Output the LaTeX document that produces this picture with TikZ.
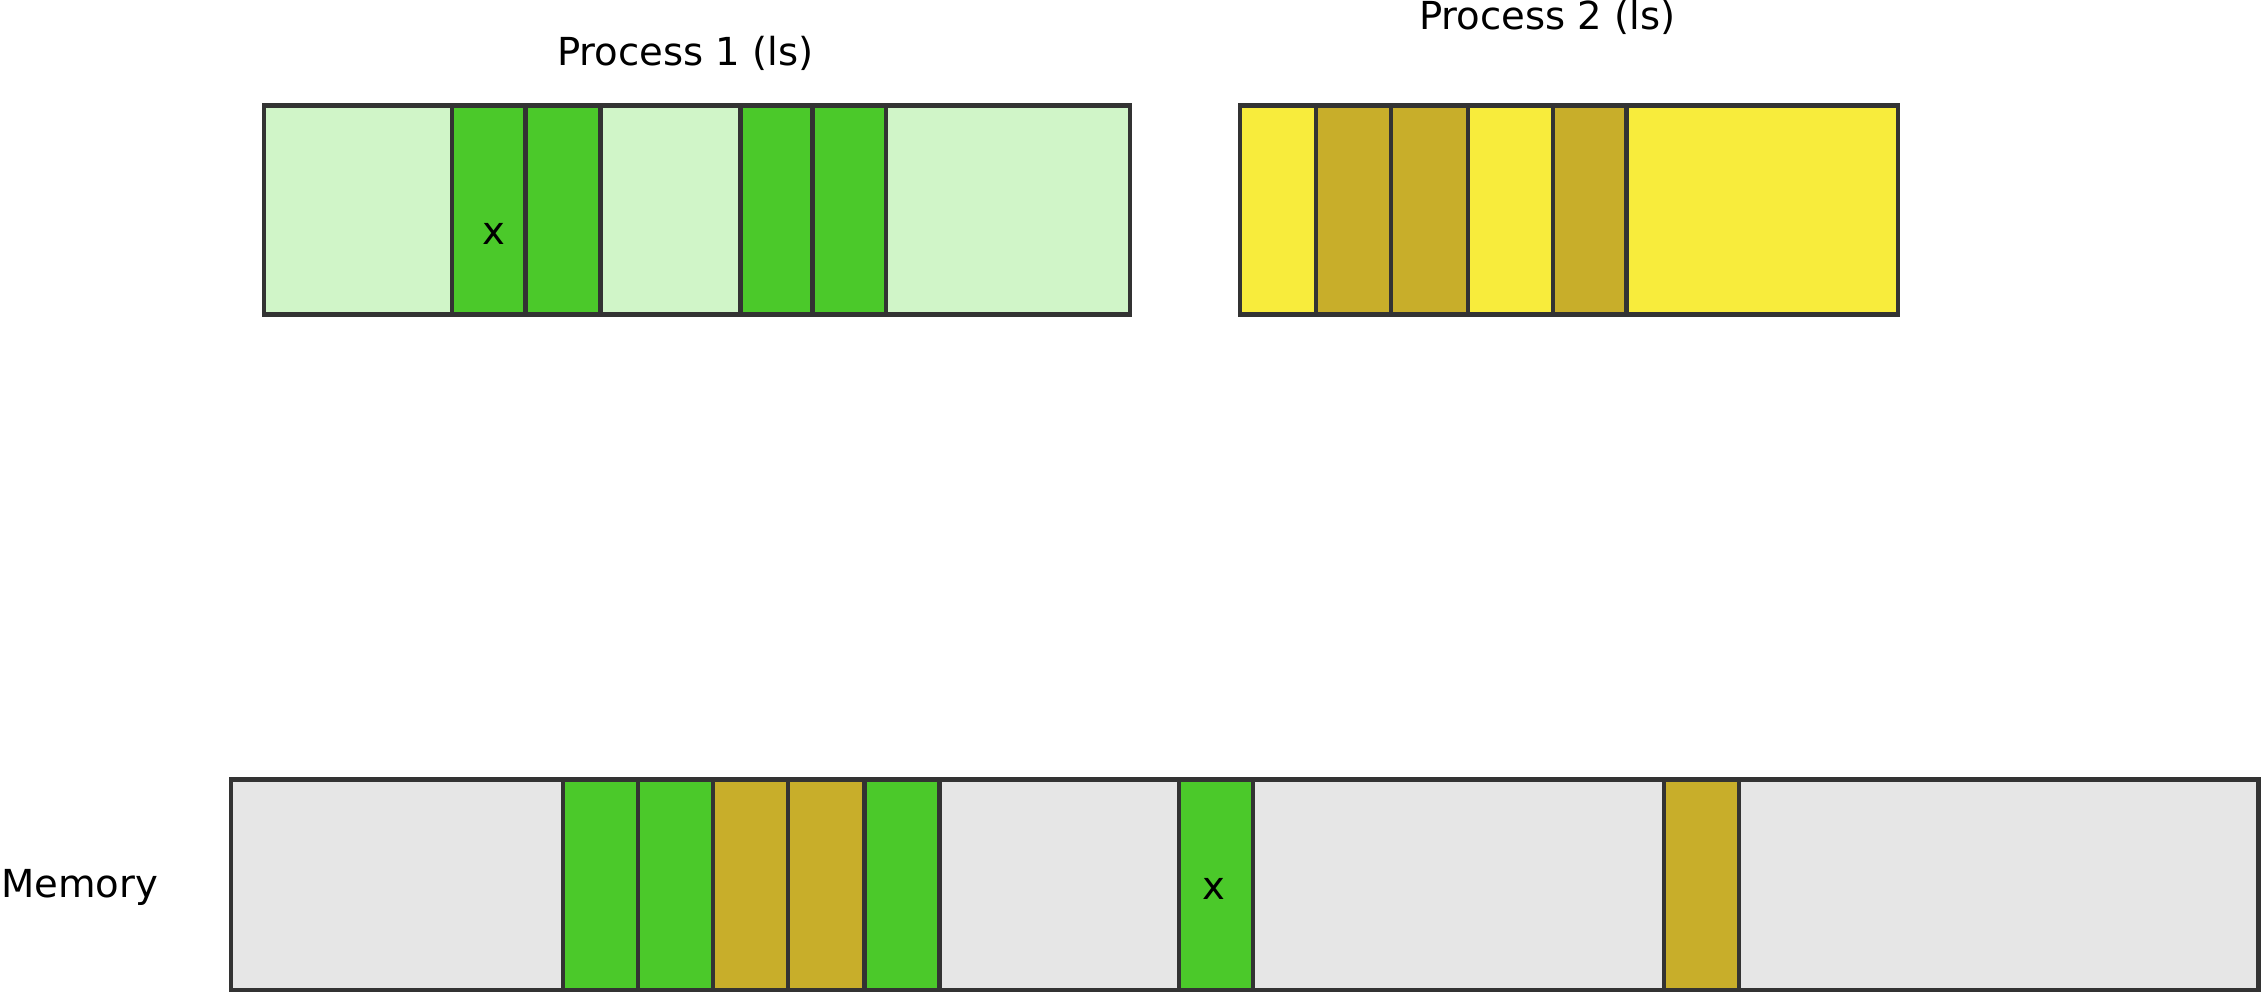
\documentclass[tikz,border=0pt]{standalone}
\usepackage{fontspec}
\setmainfont{DejaVu Sans}
\definecolor{lgreen}{HTML}{D0F5C8}
\definecolor{dgreen}{HTML}{4BC92A}
\definecolor{lyellow}{HTML}{F8EC3C}
\definecolor{dyellow}{HTML}{C8AE2A}
\definecolor{mgray}{HTML}{E6E6E6}
\definecolor{edge}{HTML}{333333}
\begin{document}
\begin{tikzpicture}[x=0.01cm,y=-0.01cm,
  cell/.style={draw=edge,line width=0.87pt},
  lab/.style={font=\fontsize{7.6}{9}\selectfont,text=black}]
\useasboundingbox (0,0) rectangle (1568,688);
% Process 1
\draw[cell,fill=lgreen] (183,73) rectangle (783,218);
\foreach \a/\b in {313/364,364/416,513/563,563/614}
  \draw[cell,fill=dgreen] (\a,73) rectangle (\b,218);
% Process 2
\draw[cell,fill=lyellow] (859,73) rectangle (1315,218);
\foreach \a/\b in {912/964,964/1017,1076/1127}
  \draw[cell,fill=dyellow] (\a,73) rectangle (\b,218);
% Memory
\draw[cell,fill=mgray] (160,540) rectangle (1565,686);
\foreach \a/\b in {390/442,442/494,599/651,817/868}
  \draw[cell,fill=dgreen] (\a,540) rectangle (\b,686);
\foreach \a/\b in {494/546,546/599,1153/1205}
  \draw[cell,fill=dyellow] (\a,540) rectangle (\b,686);
% labels
\node[lab] (p1) at (475,37) {Process 1 (ls)};
\node[lab] (p2) at (1072,12) {Process 2 (ls)};
\node[lab,anchor=west,inner sep=0pt] (mem) at (0,615) {Memory};
\node[lab] (x1) at (342,162) {x};
\node[lab] (x2) at (841,616) {x};
\end{tikzpicture}
\end{document}
